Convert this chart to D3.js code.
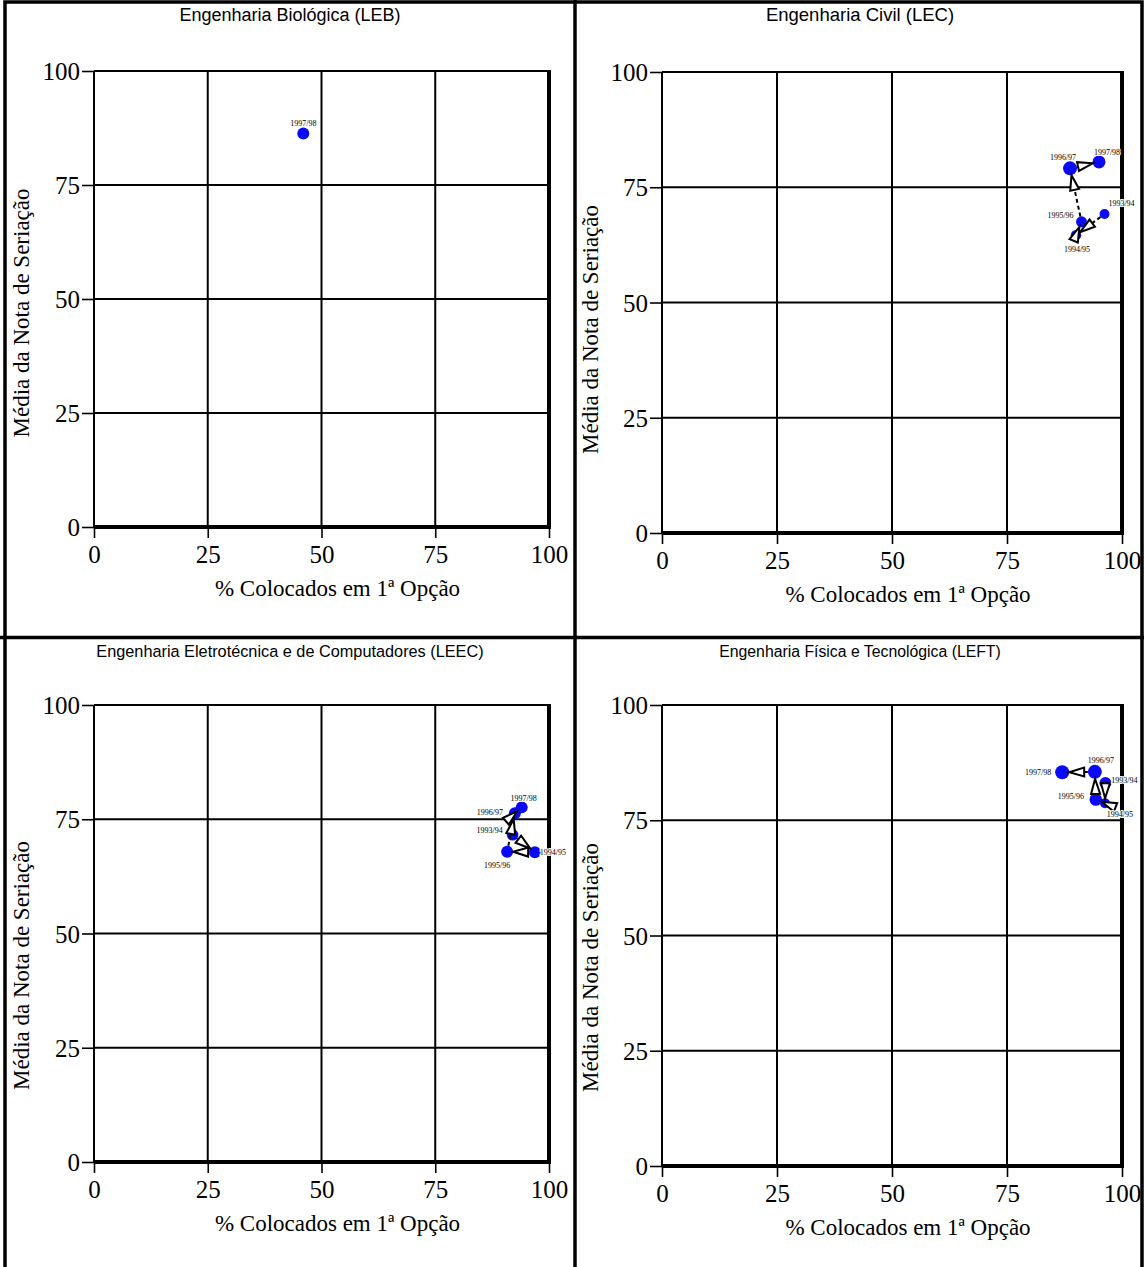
<!DOCTYPE html>
<html><head><meta charset="utf-8">
<script src="https://cdn.jsdelivr.net/npm/d3@7"></script>
<style>body{margin:0;background:#fff} svg{display:block}</style>
</head><body>
<svg id="c" width="1144" height="1267"></svg>
<script>
// Eixos comuns
const tickValores = [0, 25, 50, 75, 100];
const tituloX = "% Colocados em 1ª Opção";
const tituloY = "Média da Nota de Seriação";

// Cursos
const cursos = [
  "Engenharia Biológica (LEB)",
  "Engenharia Civil (LEC)",
  "Engenharia Eletrotécnica e de Computadores (LEEC)",
  "Engenharia Física e Tecnológica (LEFT)"
];

// LEB
const lebAnos = ["1997/98"];
const lebColocados = [46];
const lebMedia = [86.3];
const lebPeso = [64];

// LEC
const lecAnos = ["1993/94", "1994/95", "1995/96", "1996/97", "1997/98"];
const lecColocados = [96.2, 90.0, 91.2, 88.7, 95.0];
const lecMedia = [69.2, 64.6, 67.5, 79.1, 80.5];
const lecPeso = [44, 48, 54, 87, 75];

// LEEC
const leecAnos = ["1993/94", "1994/95", "1995/96", "1996/97", "1997/98"];
const leecColocados = [92.0, 96.9, 90.8, 92.5, 94.0];
const leecMedia = [71.6, 67.8, 67.9, 76.3, 77.6];
const leecPeso = [60, 64, 64, 64, 64];

// LEFT
const leftAnos = ["1993/94", "1994/95", "1995/96", "1996/97", "1997/98"];
const leftColocados = [96.4, 96.3, 94.3, 94.1, 87.0];
const leftMedia = [83.1, 78.7, 79.5, 85.5, 85.4];
const leftPeso = [64, 44, 70, 87, 87];

// Posição das etiquetas de ano (deslocamento em px a partir do ponto)
const etiquetas = [
  {"1997/98": [0, -10]},
  {"1993/94": [17, -10], "1994/95": [1, 14], "1995/96": [-21, -6], "1996/97": [-7, -11], "1997/98": [8, -9]},
  {"1993/94": [-23, -4], "1994/95": [18, 0], "1995/96": [-10, 14], "1996/97": [-25, -1], "1997/98": [2, -9]},
  {"1993/94": [19, -2], "1994/95": [15, 11], "1995/96": [-25, -3], "1996/97": [6, -11], "1997/98": [-24, 0]}
];

const series = [
  {anos: lebAnos, x: lebColocados, y: lebMedia, p: lebPeso},
  {anos: lecAnos, x: lecColocados, y: lecMedia, p: lecPeso},
  {anos: leecAnos, x: leecColocados, y: leecMedia, p: leecPeso},
  {anos: leftAnos, x: leftColocados, y: leftMedia, p: leftPeso}
];

// Geometria de cada painel
const paineis = [
  {px0: 94,  px1: 549,  py0: 71,  py1: 527,  cx: 290, ty: 21,  fs: 18,   dyT: 14},
  {px0: 662, px1: 1122, py0: 72,  py1: 533,  cx: 860, ty: 21,  fs: 18.5, dyT: 27},
  {px0: 94,  px1: 549,  py0: 705, py1: 1162, cx: 290, ty: 657, fs: 16.3, dyT: 32},
  {px0: 662, px1: 1122, py0: 705, py1: 1166, cx: 860, ty: 657, fs: 15.8, dyT: 32}
];

const svg = d3.select("#c");
const serif = "'Liberation Serif','Times New Roman',serif";
const sans = "'Liberation Sans',Arial,sans-serif";
const raio = d3.scaleSqrt().domain([0, 100]).range([0, 7.5]);

paineis.forEach((pn, i) => {
  const g = svg.append("g");
  const x = d3.scaleLinear().domain([0, 100]).range([pn.px0, pn.px1]);
  const y = d3.scaleLinear().domain([0, 100]).range([pn.py1, pn.py0]);

  // título
  g.append("text").attr("x", pn.cx).attr("y", pn.ty)
    .attr("text-anchor", "middle").attr("font-family", sans).attr("font-size", pn.fs)
    .text(cursos[i]);

  // grelha
  g.selectAll(".gv").data(tickValores.slice(1, 4)).join("line")
    .attr("x1", d => x(d)).attr("x2", d => x(d)).attr("y1", y(0)).attr("y2", y(100))
    .attr("stroke", "#000").attr("stroke-width", 2);
  g.selectAll(".gh").data(tickValores.slice(1, 4)).join("line")
    .attr("x1", x(0)).attr("x2", x(100)).attr("y1", d => y(d)).attr("y2", d => y(d))
    .attr("stroke", "#000").attr("stroke-width", 2);

  // moldura
  g.append("line").attr("x1", x(0)).attr("x2", x(100)).attr("y1", y(100)).attr("y2", y(100))
    .attr("stroke", "#000").attr("stroke-width", 2);
  g.append("line").attr("x1", x(0)).attr("x2", x(0)).attr("y1", y(100)).attr("y2", y(0))
    .attr("stroke", "#000").attr("stroke-width", 2);
  g.append("line").attr("x1", x(100)).attr("x2", x(100)).attr("y1", y(100) - 1).attr("y2", y(0) + 2)
    .attr("stroke", "#000").attr("stroke-width", 4);
  g.append("line").attr("x1", x(0)).attr("x2", x(100) + 2).attr("y1", y(0)).attr("y2", y(0))
    .attr("stroke", "#000").attr("stroke-width", 4);

  // eixos
  const ax = g.append("g").attr("transform", `translate(0,${y(0)})`)
    .call(d3.axisBottom(x).tickValues(tickValores).tickSize(11).tickPadding(7));
  const ay = g.append("g").attr("transform", `translate(${x(0)},0)`)
    .call(d3.axisLeft(y).tickValues(tickValores).tickSize(12).tickPadding(2));
  [ax, ay].forEach(a => {
    a.select(".domain").remove();
    a.selectAll(".tick line").attr("stroke", "#000").attr("stroke-width", 1.6);
    a.selectAll(".tick text").attr("fill", "#000").attr("font-family", serif).attr("font-size", 25);
  });
  ay.selectAll(".tick text").attr("dy", "0.34em");

  // títulos dos eixos
  g.append("text").attr("x", (pn.px0 + pn.px1) / 2 + 16).attr("y", pn.py1 + 69)
    .attr("text-anchor", "middle").attr("font-family", serif).attr("font-size", 23)
    .text(tituloX);
  const tyx = i % 2 === 0 ? 21 : 590;
  g.append("text")
    .attr("transform", `translate(${tyx},${(pn.py0 + pn.py1) / 2 + pn.dyT}) rotate(-90)`)
    .attr("text-anchor", "middle").attr("dominant-baseline", "central")
    .attr("font-family", serif).attr("font-size", 23)
    .text(tituloY);

  // pontos
  const s = series[i];
  const pts = s.anos.map((a, k) => ({ano: a, cx: x(s.x[k]), cy: y(s.y[k]), r: raio(s.p[k])}));

  g.selectAll(".pt").data(pts).join("circle")
    .attr("cx", d => d.cx).attr("cy", d => d.cy).attr("r", d => d.r)
    .attr("fill", "#0a0af5");

  // setas de evolução entre anos consecutivos
  const L = 15, W = 4.5;
  d3.pairs(pts).forEach(([a, b]) => {
    const dx = b.cx - a.cx, dy = b.cy - a.cy;
    const d = Math.hypot(dx, dy);
    const ux = dx / d, uy = dy / d;
    const tx = b.cx - ux * b.r, ty = b.cy - uy * b.r;
    const bx = tx - ux * L, by = ty - uy * L;
    const sx = a.cx + ux * a.r, sy = a.cy + uy * a.r;
    if ((bx - sx) * ux + (by - sy) * uy > 0) {
      g.append("line").attr("x1", sx).attr("y1", sy).attr("x2", bx).attr("y2", by)
        .attr("stroke", "#000").attr("stroke-width", 2).attr("stroke-dasharray", "4,3");
    }
    const nx = -uy, ny = ux;
    g.append("path")
      .attr("d", d3.line()([[tx, ty], [bx + nx * W, by + ny * W], [bx - nx * W, by - ny * W]]) + "Z")
      .attr("fill", "#fff").attr("stroke", "#000").attr("stroke-width", 2)
      .attr("stroke-linejoin", "miter");
  });

  // etiquetas dos anos
  g.selectAll(".lb").data(pts).join("text")
    .attr("x", d => d.cx + etiquetas[i][d.ano][0])
    .attr("y", d => d.cy + etiquetas[i][d.ano][1])
    .attr("text-anchor", "middle").attr("dominant-baseline", "central")
    .attr("font-family", serif).attr("font-size", 8)
    .attr("stroke", "#fff").attr("stroke-width", 2).attr("paint-order", "stroke")
    .text(d => d.ano);
});

// divisórias e moldura exterior
const frame = svg.append("g").attr("stroke", "#000").attr("stroke-width", 3.5).attr("fill", "none");
frame.append("rect").attr("x", 5).attr("y", 2).attr("width", 1137).attr("height", 1275);
frame.append("line").attr("x1", 575).attr("x2", 575).attr("y1", 0).attr("y2", 1267);
frame.append("line").attr("x1", 0).attr("x2", 1144).attr("y1", 637.5).attr("y2", 637.5);
</script>
</body></html>
